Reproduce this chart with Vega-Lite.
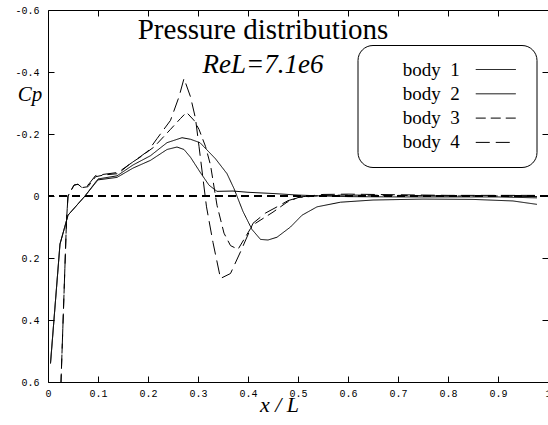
{
  "$schema": "https://vega.github.io/schema/vega-lite/v6.json",
  "width": 500,
  "height": 372,
  "autosize": "none",
  "padding": {"left": 48, "top": 10, "right": 0, "bottom": 43},
  "background": "white",
  "title": {
    "text": "Pressure distributions",
    "subtitle": "ReL=7.1e6",
    "orient": "top",
    "anchor": "middle",
    "frame": "group",
    "offset": -73,
    "dx": -35,
    "font": "Liberation Serif",
    "fontSize": 29,
    "fontWeight": "normal",
    "color": "black",
    "subtitleFont": "Liberation Serif",
    "subtitleFontSize": 27,
    "subtitleFontStyle": "italic",
    "subtitleColor": "black",
    "subtitlePadding": 7
  },
  "data": {
    "values": [
      {"body": "body 1", "x": 0.005, "cp": 0.54},
      {"body": "body 1", "x": 0.024, "cp": 0.155},
      {"body": "body 1", "x": 0.04, "cp": 0.062},
      {"body": "body 1", "x": 0.074, "cp": 0.0},
      {"body": "body 1", "x": 0.1, "cp": -0.052},
      {"body": "body 1", "x": 0.138, "cp": -0.06},
      {"body": "body 1", "x": 0.17, "cp": -0.09},
      {"body": "body 1", "x": 0.205, "cp": -0.115},
      {"body": "body 1", "x": 0.238, "cp": -0.15},
      {"body": "body 1", "x": 0.258, "cp": -0.158},
      {"body": "body 1", "x": 0.272, "cp": -0.15},
      {"body": "body 1", "x": 0.285, "cp": -0.125},
      {"body": "body 1", "x": 0.305, "cp": -0.075},
      {"body": "body 1", "x": 0.322, "cp": -0.035},
      {"body": "body 1", "x": 0.338, "cp": -0.015},
      {"body": "body 1", "x": 0.37, "cp": -0.016},
      {"body": "body 1", "x": 0.4, "cp": -0.012},
      {"body": "body 1", "x": 0.45, "cp": -0.008},
      {"body": "body 1", "x": 0.5, "cp": -0.003},
      {"body": "body 1", "x": 0.55, "cp": 0.0},
      {"body": "body 1", "x": 0.6, "cp": 0.002},
      {"body": "body 1", "x": 0.7, "cp": 0.003},
      {"body": "body 1", "x": 0.8, "cp": 0.003},
      {"body": "body 1", "x": 0.9, "cp": 0.003},
      {"body": "body 1", "x": 0.978, "cp": 0.006},

      {"body": "body 2", "x": 0.005, "cp": 0.54},
      {"body": "body 2", "x": 0.024, "cp": 0.155},
      {"body": "body 2", "x": 0.04, "cp": 0.062},
      {"body": "body 2", "x": 0.074, "cp": 0.0},
      {"body": "body 2", "x": 0.1, "cp": -0.055},
      {"body": "body 2", "x": 0.138, "cp": -0.065},
      {"body": "body 2", "x": 0.17, "cp": -0.1},
      {"body": "body 2", "x": 0.205, "cp": -0.13},
      {"body": "body 2", "x": 0.238, "cp": -0.172},
      {"body": "body 2", "x": 0.268, "cp": -0.188},
      {"body": "body 2", "x": 0.285, "cp": -0.183},
      {"body": "body 2", "x": 0.304, "cp": -0.172},
      {"body": "body 2", "x": 0.335, "cp": -0.12},
      {"body": "body 2", "x": 0.358, "cp": -0.072},
      {"body": "body 2", "x": 0.372, "cp": -0.024},
      {"body": "body 2", "x": 0.39, "cp": 0.05},
      {"body": "body 2", "x": 0.408, "cp": 0.108},
      {"body": "body 2", "x": 0.425, "cp": 0.14},
      {"body": "body 2", "x": 0.44, "cp": 0.142},
      {"body": "body 2", "x": 0.458, "cp": 0.133},
      {"body": "body 2", "x": 0.485, "cp": 0.1},
      {"body": "body 2", "x": 0.508, "cp": 0.062},
      {"body": "body 2", "x": 0.538, "cp": 0.035},
      {"body": "body 2", "x": 0.585, "cp": 0.02},
      {"body": "body 2", "x": 0.65, "cp": 0.013},
      {"body": "body 2", "x": 0.75, "cp": 0.01},
      {"body": "body 2", "x": 0.85, "cp": 0.011},
      {"body": "body 2", "x": 0.93, "cp": 0.016},
      {"body": "body 2", "x": 0.978, "cp": 0.027},

      {"body": "body 3", "x": 0.022, "cp": 0.75},
      {"body": "body 3", "x": 0.026, "cp": 0.6},
      {"body": "body 3", "x": 0.037, "cp": 0.08},
      {"body": "body 3", "x": 0.04, "cp": 0.0},
      {"body": "body 3", "x": 0.052, "cp": -0.035},
      {"body": "body 3", "x": 0.06, "cp": -0.038},
      {"body": "body 3", "x": 0.068, "cp": -0.027},
      {"body": "body 3", "x": 0.08, "cp": -0.03},
      {"body": "body 3", "x": 0.095, "cp": -0.062},
      {"body": "body 3", "x": 0.112, "cp": -0.068},
      {"body": "body 3", "x": 0.14, "cp": -0.072},
      {"body": "body 3", "x": 0.165, "cp": -0.105},
      {"body": "body 3", "x": 0.185, "cp": -0.126},
      {"body": "body 3", "x": 0.212, "cp": -0.158},
      {"body": "body 3", "x": 0.245, "cp": -0.215},
      {"body": "body 3", "x": 0.265, "cp": -0.25},
      {"body": "body 3", "x": 0.277, "cp": -0.27},
      {"body": "body 3", "x": 0.292, "cp": -0.244},
      {"body": "body 3", "x": 0.302, "cp": -0.215},
      {"body": "body 3", "x": 0.315, "cp": -0.16},
      {"body": "body 3", "x": 0.325, "cp": -0.1},
      {"body": "body 3", "x": 0.338, "cp": 0.03},
      {"body": "body 3", "x": 0.352, "cp": 0.12},
      {"body": "body 3", "x": 0.365, "cp": 0.16},
      {"body": "body 3", "x": 0.38, "cp": 0.172},
      {"body": "body 3", "x": 0.392, "cp": 0.14},
      {"body": "body 3", "x": 0.405, "cp": 0.105},
      {"body": "body 3", "x": 0.415, "cp": 0.088},
      {"body": "body 3", "x": 0.45, "cp": 0.052},
      {"body": "body 3", "x": 0.478, "cp": 0.02},
      {"body": "body 3", "x": 0.5, "cp": 0.005},
      {"body": "body 3", "x": 0.55, "cp": -0.002},
      {"body": "body 3", "x": 0.6, "cp": -0.003},
      {"body": "body 3", "x": 0.7, "cp": -0.002},
      {"body": "body 3", "x": 0.8, "cp": 0.0},
      {"body": "body 3", "x": 0.9, "cp": 0.0},
      {"body": "body 3", "x": 0.978, "cp": 0.002},

      {"body": "body 4", "x": 0.022, "cp": 0.75},
      {"body": "body 4", "x": 0.026, "cp": 0.6},
      {"body": "body 4", "x": 0.037, "cp": 0.08},
      {"body": "body 4", "x": 0.04, "cp": 0.0},
      {"body": "body 4", "x": 0.052, "cp": -0.035},
      {"body": "body 4", "x": 0.06, "cp": -0.038},
      {"body": "body 4", "x": 0.068, "cp": -0.027},
      {"body": "body 4", "x": 0.08, "cp": -0.035},
      {"body": "body 4", "x": 0.095, "cp": -0.066},
      {"body": "body 4", "x": 0.112, "cp": -0.07},
      {"body": "body 4", "x": 0.14, "cp": -0.076},
      {"body": "body 4", "x": 0.17, "cp": -0.11},
      {"body": "body 4", "x": 0.2, "cp": -0.145},
      {"body": "body 4", "x": 0.218, "cp": -0.185},
      {"body": "body 4", "x": 0.245, "cp": -0.244},
      {"body": "body 4", "x": 0.262, "cp": -0.32},
      {"body": "body 4", "x": 0.272, "cp": -0.379},
      {"body": "body 4", "x": 0.285, "cp": -0.32},
      {"body": "body 4", "x": 0.295, "cp": -0.25},
      {"body": "body 4", "x": 0.302, "cp": -0.16},
      {"body": "body 4", "x": 0.317, "cp": 0.035},
      {"body": "body 4", "x": 0.33, "cp": 0.15},
      {"body": "body 4", "x": 0.345, "cp": 0.266},
      {"body": "body 4", "x": 0.365, "cp": 0.25},
      {"body": "body 4", "x": 0.385, "cp": 0.18},
      {"body": "body 4", "x": 0.41, "cp": 0.088},
      {"body": "body 4", "x": 0.435, "cp": 0.055},
      {"body": "body 4", "x": 0.458, "cp": 0.035},
      {"body": "body 4", "x": 0.48, "cp": 0.015},
      {"body": "body 4", "x": 0.505, "cp": 0.003},
      {"body": "body 4", "x": 0.55, "cp": -0.005},
      {"body": "body 4", "x": 0.6, "cp": -0.006},
      {"body": "body 4", "x": 0.7, "cp": -0.004},
      {"body": "body 4", "x": 0.8, "cp": -0.002},
      {"body": "body 4", "x": 0.9, "cp": -0.002},
      {"body": "body 4", "x": 0.978, "cp": -0.002}
    ]
  },
  "layer": [
    {
      "mark": {"type": "rule", "color": "black", "strokeWidth": 1, "strokeDash": [8, 5]},
      "encoding": {"y": {"datum": 0, "type": "quantitative", "axis": null}}
    },
    {
      "mark": {"type": "line", "clip": true, "color": "black", "strokeWidth": 1},
      "encoding": {
        "x": {
          "field": "x", "type": "quantitative",
          "scale": {"domain": [0, 1], "nice": false, "zero": false},
          "axis": {
            "orient": "bottom",
            "values": [0, 0.1, 0.2, 0.3, 0.4, 0.5, 0.6, 0.7, 0.8, 0.9, 1],
            "labelExpr": "toString(datum.value)",
            "title": "x / L",
            "titleX": 231,
            "titleY": 29,
            "titleAlign": "center",
            "titleBaseline": "alphabetic",
            "titleFont": "Liberation Serif",
            "titleFontStyle": "italic",
            "titleFontWeight": "normal",
            "titleFontSize": 22,
            "titleColor": "black",
            "labelPadding": 12
          }
        },
        "y": {
          "field": "cp", "type": "quantitative",
          "scale": {"domain": [-0.6, 0.6], "reverse": true, "nice": false, "zero": false},
          "axis": {
            "orient": "left",
            "values": [-0.6, -0.4, -0.2, 0, 0.2, 0.4, 0.6],
            "labelExpr": "toString(datum.value)",
            "title": "Cp",
            "titleAngle": 0,
            "titleX": -18.5,
            "titleY": 90,
            "titleAlign": "center",
            "titleBaseline": "alphabetic",
            "titleFont": "Liberation Serif",
            "titleFontStyle": "italic",
            "titleFontWeight": "normal",
            "titleFontSize": 21,
            "titleColor": "black",
            "labelPadding": 15
          }
        },
        "strokeDash": {
          "field": "body", "type": "nominal",
          "scale": {
            "domain": ["body 1", "body 2", "body 3", "body 4"],
            "range": [[1, 0], [1, 0], [10, 5], [14, 6]]
          },
          "legend": {
            "orient": "none",
            "legendX": 309.5,
            "legendY": 35,
            "title": null,
            "strokeColor": "black",
            "fillColor": "white",
            "cornerRadius": 15,
            "padding": 14,
            "rowPadding": 3.3,
            "symbolType": "M-2,0H2M2.45,0",
            "symbolSize": 400,
            "symbolStrokeColor": "black",
            "symbolFillColor": "transparent",
            "symbolStrokeWidth": 1,
            "symbolOffset": 113.75,
            "labelOffset": -103.55,
            "labelAlign": "left",
            "labelFont": "Liberation Serif",
            "labelFontSize": 19,
            "labelColor": "black",
            "labelLimit": 200,
            "labelExpr": "replace(datum.label, ' ', '\u00a0\u00a0')"
          }
        }
      }
    },
    {
      "mark": {"type": "point", "opacity": 0},
      "encoding": {
        "x": {
          "field": "x", "type": "quantitative",
          "axis": {"orient": "top", "labels": false, "title": null, "domain": false,
                   "values": [0.1, 0.2, 0.3, 0.4, 0.5, 0.6, 0.7, 0.8, 0.9]}
        },
        "y": {
          "field": "cp", "type": "quantitative",
          "axis": {"orient": "right", "labels": false, "title": null, "domain": false,
                   "values": [-0.4, -0.2, 0, 0.2, 0.4]}
        }
      }
    }
  ],
  "resolve": {"axis": {"x": "independent", "y": "independent"}},
  "config": {
    "view": {"stroke": "black", "strokeWidth": 1},
    "axis": {
      "grid": false,
      "domain": false,
      "ticks": true,
      "tickSize": -6,
      "tickColor": "black",
      "tickWidth": 1,
      "labelFont": "Liberation Mono",
      "labelFontSize": 10,
      "labelColor": "black",
      "labelFlush": false,
      "labelOverlap": false
    }
  }
}
